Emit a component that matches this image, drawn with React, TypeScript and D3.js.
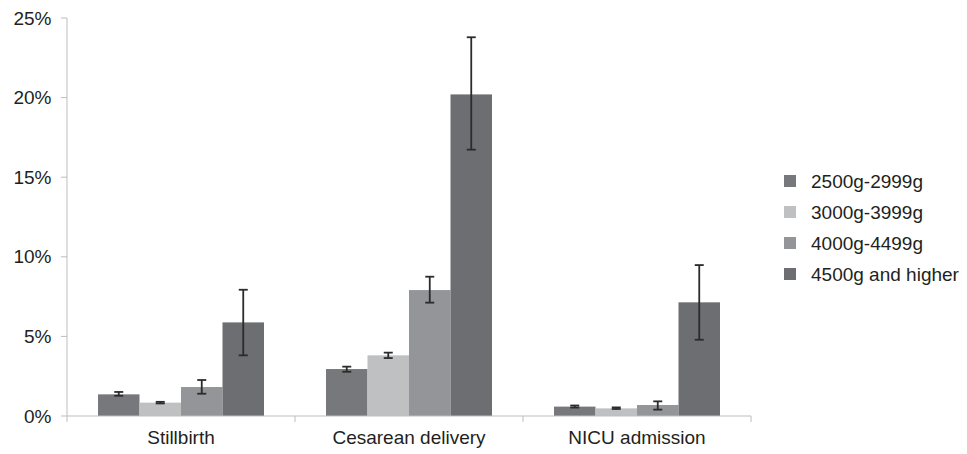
import React from "react";
import * as d3 from "d3";

const categories = ["Stillbirth", "Cesarean delivery", "NICU admission"];
const series = ["2500g-2999g", "3000g-3999g", "4000g-4499g", "4500g and higher"];
const colors = ["#77787b", "#bfc0c2", "#939598", "#6d6e71"];
// values[series][category] in %
const values = [
  [1.36, 2.95, 0.59],
  [0.84, 3.81, 0.48],
  [1.82, 7.91, 0.69],
  [5.88, 20.2, 7.14],
];
const errLow = [
  [1.27, 2.78, 0.53],
  [0.79, 3.64, 0.44],
  [1.4, 7.12, 0.4],
  [3.81, 16.73, 4.79],
];
const errHigh = [
  [1.51, 3.1, 0.66],
  [0.89, 3.98, 0.54],
  [2.26, 8.75, 0.92],
  [7.93, 23.79, 9.48],
];
const yTicks = [0, 5, 10, 15, 20, 25];

const W = 967;
const H = 454;
const FONT = "'Liberation Sans', Arial, Helvetica, sans-serif";

export default function App() {
  const x0 = d3.scaleBand().domain(categories).range([67, 751]).paddingInner(0).paddingOuter(0);
  const groupW = 166;
  const x1 = d3.scaleBand().domain(series).range([0, groupW]).padding(0);
  const y = d3.scaleLinear().domain([0, 25]).range([416, 18]);
  const capW = 9;

  return (
    <svg width={W} height={H} style={{ position: "absolute", left: 0, top: 0, background: "#fff" }}>
      {/* y axis */}
      <line x1={67} x2={67} y1={y(25)} y2={y(0) + 6} stroke="#bdbdbd" strokeWidth={1} />
      {yTicks.map((t) => (
        <g key={t}>
          <line x1={61} x2={67} y1={y(t)} y2={y(t)} stroke="#bdbdbd" />
          <text x={51.5} y={y(t)} dy="0.35em" textAnchor="end" fontFamily={FONT} fontSize={19} fill="#231f20">
            {t}%
          </text>
        </g>
      ))}
      {/* bars */}
      {categories.map((c, ci) => {
        const gx = x0(c)! + (x0.bandwidth() - groupW) / 2;
        return (
          <g key={c}>
            {series.map((s, si) => {
              const bx = gx + x1(s)!;
              const v = values[si][ci];
              return (
                <rect key={s} x={bx} y={y(v)} width={x1.bandwidth()} height={y(0) - y(v)} fill={colors[si]} />
              );
            })}
            {series.map((s, si) => {
              const cx = gx + x1(s)! + x1.bandwidth() / 2;
              const lo = y(errLow[si][ci]);
              const hi = y(errHigh[si][ci]);
              return (
                <g key={s} stroke="#2b2b2b" strokeWidth={1.8}>
                  <line x1={cx} x2={cx} y1={lo} y2={hi} />
                  <line x1={cx - capW / 2} x2={cx + capW / 2} y1={lo} y2={lo} />
                  <line x1={cx - capW / 2} x2={cx + capW / 2} y1={hi} y2={hi} />
                </g>
              );
            })}
          </g>
        );
      })}
      {/* x axis */}
      <line x1={67} x2={751} y1={y(0)} y2={y(0)} stroke="#bdbdbd" strokeWidth={1.2} />
      {categories.map((c, ci) => (
        <g key={c}>
          {ci > 0 && <line x1={x0(c)!} x2={x0(c)!} y1={y(0)} y2={y(0) + 6} stroke="#bdbdbd" />}
          <text x={x0(c)! + x0.bandwidth() / 2} y={444} textAnchor="middle" fontFamily={FONT} fontSize={19} fill="#231f20">
            {c}
          </text>
        </g>
      ))}
      <line x1={751} x2={751} y1={y(0)} y2={y(0) + 6} stroke="#bdbdbd" />
      {/* legend */}
      {series.map((s, si) => {
        const ly = 181 + si * 31;
        return (
          <g key={s}>
            <rect x={784} y={ly - 6} width={12} height={12} fill={colors[si]} />
            <text x={811} y={ly} dy="0.35em" fontFamily={FONT} fontSize={19} fill="#231f20">
              {s}
            </text>
          </g>
        );
      })}
    </svg>
  );
}
